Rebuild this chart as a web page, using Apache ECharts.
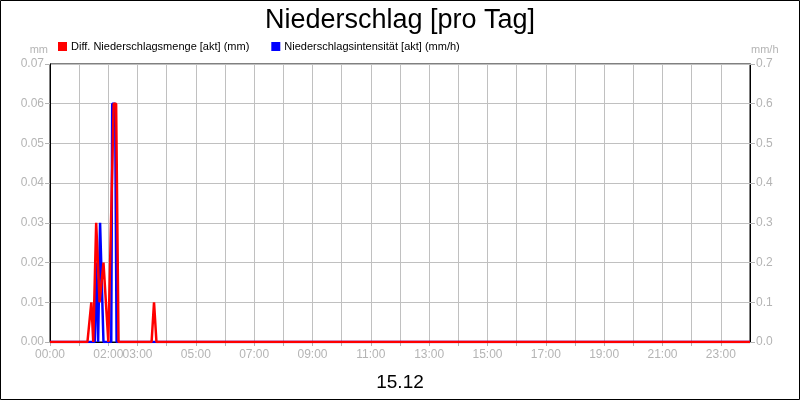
<!DOCTYPE html>
<html>
<head>
<meta charset="utf-8">
<title>Niederschlag</title>
<script src="https://cdn.jsdelivr.net/npm/echarts@6/dist/echarts.min.js"></script>
<style>
    html, body { margin: 0; padding: 0; background: #fff; }
    #RainChart { width: 800px; height: 400px; }
</style>
</head>
<body>
<div id="RainChart"></div>
<script>
// data
var dayLabel = '15.12';
var hourLabels = [0, 2, 3, 5, 7, 9, 11, 13, 15, 17, 19, 21, 23];

var mengeTimes  = ['00:00', '01:17', '01:25', '01:29', '01:35', '01:42', '01:50', '02:00', '02:11', '02:16', '02:21', '03:29', '03:34', '03:39', '24:00'];
var mengeValues = [0, 0, 0.01, 0, 0.03, 0.01, 0.02, 0, 0.06, 0.06, 0, 0, 0.01, 0, 0];

var intensTimes  = ['00:00', '01:32', '01:35', '01:39', '01:43', '01:47', '01:50', '02:06', '02:08', '02:14', '02:17', '24:00'];
var intensValues = [0, 0, 0.2, 0, 0.3, 0.3, 0, 0, 0.6, 0.6, 0, 0];

function toHours(t) {
    var p = t.split(':');
    return parseInt(p[0], 10) + parseInt(p[1], 10) / 60;
}
function pairs(times, values) {
    var out = [];
    for (var i = 0; i < times.length; i++) {
        out.push([toHours(times[i]), values[i]]);
    }
    return out;
}
function pad(n) { return (n < 10 ? '0' : '') + n; }

// RainChart
var RainChart = echarts.init(document.getElementById('RainChart'));
var labelColor = '#b4b4b4';
var optionRain = {
    animation: false,
    textStyle: { fontFamily: 'Liberation Sans, Arial, sans-serif' },
    title: [
        {
            text: 'Niederschlag [pro Tag]',
            left: 'center',
            top: 2,
            textStyle: { color: '#000', fontSize: 27, fontWeight: 'normal' }
        },
        {
            text: dayLabel,
            left: 'center',
            top: 368,
            textStyle: { color: '#000', fontSize: 19, fontWeight: 'normal' }
        }
    ],
    legend: {
        left: 53,
        top: 36,
        icon: 'rect',
        itemWidth: 9,
        itemHeight: 9,
        itemGap: 22,
        textStyle: { color: '#000', fontSize: 11, padding: [0, 0, 0, -1] },
        data: ['Diff. Niederschlagsmenge [akt] (mm)', 'Niederschlagsintensität [akt] (mm/h)']
    },
    grid: {
        left: 50,
        right: 50,
        top: 64,
        bottom: 58,
        show: true,
        borderColor: '#000',
        borderWidth: 1
    },
    xAxis: {
        type: 'value',
        min: 0,
        max: 24,
        interval: 1,
        axisLine: { show: true, lineStyle: { color: '#000' } },
        axisTick: { show: true, length: 4, lineStyle: { color: labelColor } },
        axisLabel: {
            color: labelColor,
            fontSize: 12,
            margin: 7,
            showMaxLabel: false,
            formatter: function (v) {
                return hourLabels.indexOf(v) >= 0 ? pad(v) + ':00' : '';
            }
        },
        splitLine: { show: true, lineStyle: { color: '#c0c0c0' } }
    },
    yAxis: [
        {
            type: 'value',
            name: 'mm',
            nameGap: 9,
            nameTextStyle: { color: labelColor, fontSize: 11, align: 'right', padding: [0, 2, 0, 0] },
            min: 0,
            max: 0.07,
            interval: 0.01,
            axisLine: { show: true, lineStyle: { color: '#000' } },
            axisTick: { show: true, length: 5, lineStyle: { color: labelColor } },
            axisLabel: {
                color: labelColor,
                fontSize: 12,
                margin: 6,
                formatter: function (v) { return v.toFixed(2); }
            },
            splitLine: { show: true, lineStyle: { color: '#c0c0c0' } }
        },
        {
            type: 'value',
            name: 'mm/h',
            nameGap: 9,
            nameTextStyle: { color: labelColor, fontSize: 11, align: 'left', padding: [0, 0, 0, 1] },
            min: 0,
            max: 0.7,
            interval: 0.1,
            axisLine: { show: true, lineStyle: { color: '#000' } },
            axisTick: { show: true, length: 5, lineStyle: { color: labelColor } },
            axisLabel: {
                color: labelColor,
                fontSize: 12,
                margin: 6,
                formatter: function (v) { return v.toFixed(1); }
            },
            splitLine: { show: false }
        }
    ],
    series: [
        {
            name: 'Niederschlagsintensität [akt] (mm/h)',
            type: 'line',
            yAxisIndex: 1,
            symbol: 'none',
            color: '#0000ff',
            lineStyle: { color: '#0000ff', width: 2.5 },
            data: pairs(intensTimes, intensValues)
        },
        {
            name: 'Diff. Niederschlagsmenge [akt] (mm)',
            type: 'line',
            yAxisIndex: 0,
            symbol: 'none',
            color: '#ff0000',
            lineStyle: { color: '#ff0000', width: 2.5 },
            data: pairs(mengeTimes, mengeValues)
        }
    ],
    graphic: [
        {
            type: 'rect',
            shape: { x: 0.5, y: 0.5, width: 799, height: 399 },
            style: { fill: 'none', stroke: '#000', lineWidth: 1 },
            silent: true
        }
    ]
};
RainChart.setOption(optionRain);
</script>
</body>
</html>
